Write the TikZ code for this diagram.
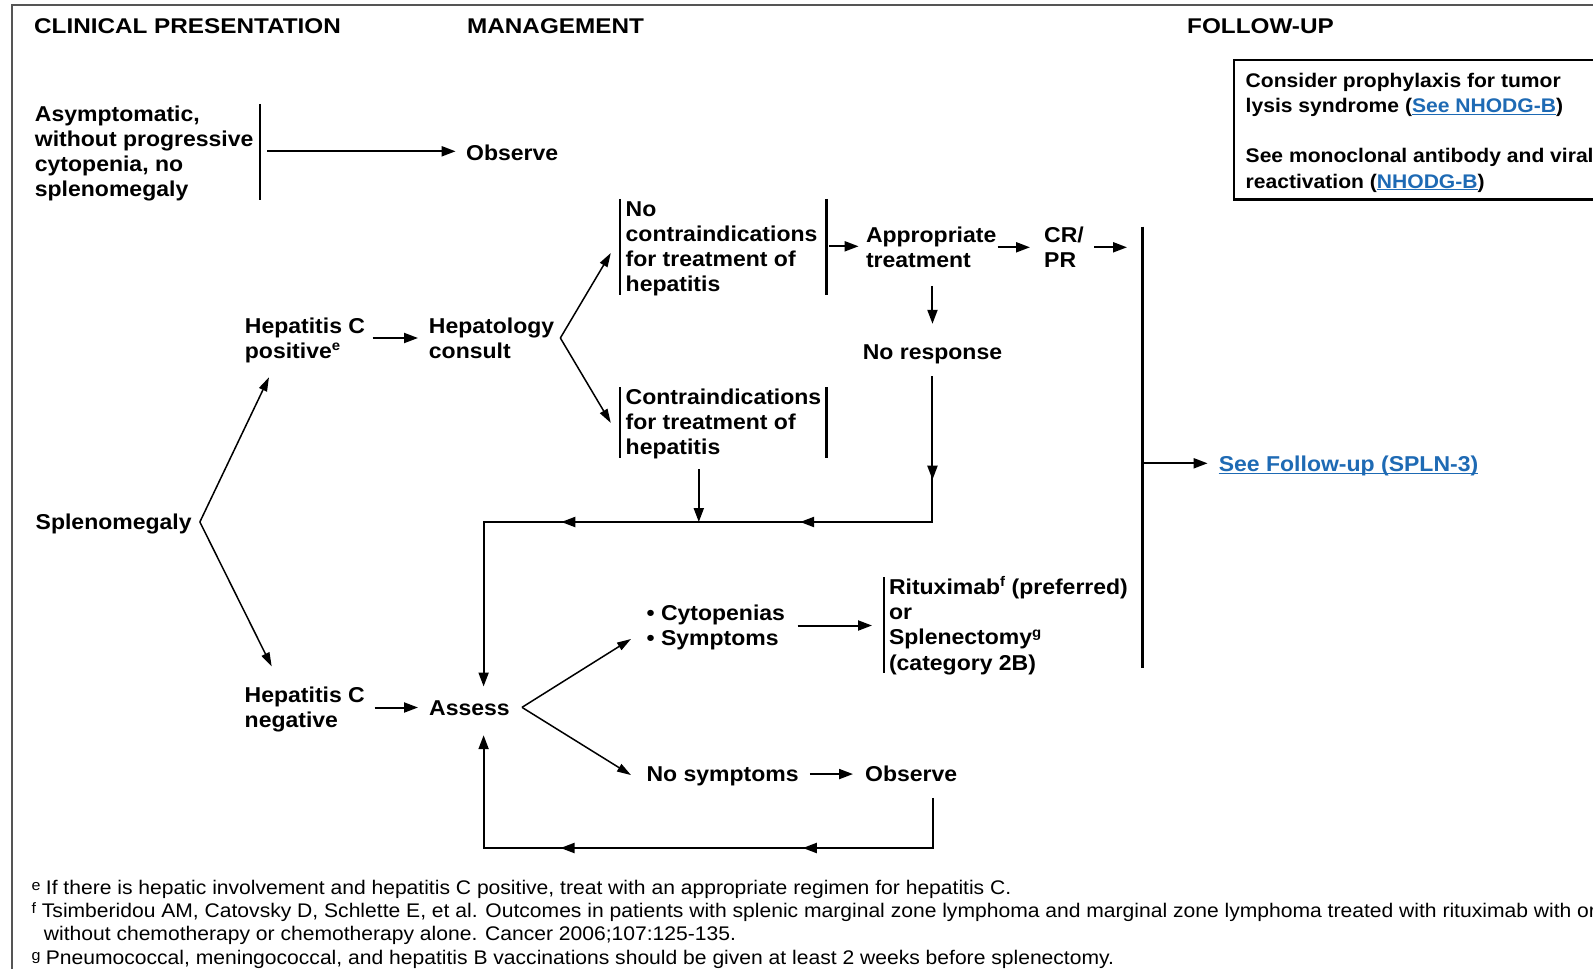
\documentclass[tikz,border=0pt]{standalone}
\usepackage{fontspec}
\usepackage{array}
\setmainfont{Liberation Sans}[FakeStretch=1.07]
\newfontfamily\headfont{Liberation Sans}[FakeStretch=1.14]
\usetikzlibrary{arrows.meta,decorations.markings}
\definecolor{linkblue}{RGB}{30,106,180}
\definecolor{framegray}{RGB}{85,85,85}
% fixed row pitch for multi-line text blocks
\newlength\rowht
\newlength\rowdp
\newcommand\rowstrut{\rule[-\rowdp]{0pt}{\dimexpr\rowht+\rowdp\relax}}
\newcommand\blk[1]{{\renewcommand\arraystretch{0}\begin{tabular}[t]{@{}>{\rowstrut}l@{}}#1\end{tabular}}}
\newcommand\supmark[1]{\raisebox{7.5pt}{\fontsize{14}{14}\selectfont #1}}
\newcommand\fnmark[2]{\makebox[#1][l]{\raisebox{4pt}{\fontsize{15}{15}\selectfont #2}}}
\newcommand\lnk[1]{\textcolor{linkblue}{\underline{#1}}}
\begin{document}
\begin{tikzpicture}[x=1pt,y=-1pt,
  txt/.style={anchor=base west, inner sep=0pt, font=\fontsize{21.5}{25.3}\selectfont\bfseries\setlength\rowht{20.3pt}\setlength\rowdp{5pt}},
  head/.style={anchor=base west, inner sep=0pt, font=\headfont\fontsize{21.3}{25}\selectfont\bfseries},
  boxtxt/.style={anchor=base west, inner sep=0pt, font=\fontsize{19.7}{25.25}\selectfont\bfseries\setlength\rowht{20.25pt}\setlength\rowdp{5pt}},
  note/.style={anchor=base west, inner sep=0pt, font=\fontsize{19.7}{23.3}\selectfont\setlength\rowht{18.3pt}\setlength\rowdp{5pt}},
  conn/.style={line width=2pt},
  arr/.style={conn, -{Triangle[length=14pt,width=10pt]}},
  diag/.style={line width=1.5pt, -{Triangle[length=14pt,width=8.5pt]}},
  barline/.style={line width=2.2pt, shorten <=3.3pt, shorten >=2pt},
  tipmark/.style={postaction={decorate, decoration={markings, mark=at position #1 with {\arrow{Triangle[length=14pt,width=10pt]}}}}},
]
\clip (0,0) rectangle (1593,969);
\fill[white] (0,0) rectangle (1593,969);

% page frame
\draw[framegray, line width=2.4pt] (12,980) -- (12,5) -- (1600,5);

% column headings
\node[head] (hClin) at (34,33.5) {CLINICAL PRESENTATION};
\node[head] (hMgmt) at (467,33.5) {MANAGEMENT};
\node[head] (hFol) at (1187,33.5) {FOLLOW-UP};

% clinical presentation
\node[txt] (asym) at (34.7,121) {\blk{Asymptomatic,\\without progressive\\cytopenia, no\\splenomegaly}};
\node[txt] (spleno) at (35.5,529.6) {\blk{Splenomegaly}};
\node[txt] (hepPos) at (244.7,333) {\blk{Hepatitis C\\positive\supmark{e}}};
\node[txt] (hepNeg) at (244.5,702.5) {\blk{Hepatitis C\\negative}};

% management
\node[txt] (obsTop) at (466,160.6) {\blk{Observe}};
\node[txt] (hepCons) at (428.7,333) {\blk{Hepatology\\consult}};
\node[txt] (noCI) at (625.5,216) {\blk{No\\contraindications\\for treatment of\\hepatitis}};
\node[txt] (contra) at (625.5,404.3) {\blk{Contraindications\\for treatment of\\hepatitis}};
\node[txt] (appr) at (865.8,242.3) {\blk{Appropriate\\treatment}};
\node[txt] (crpr) at (1044,242.3) {\blk{CR/\\PR}};
\node[txt] (noresp) at (862.6,359) {\blk{No response}};
\node[txt] (assess) at (429,715) {\blk{Assess}};
\node[txt] (cyto) at (646.4,620.5) {\blk{• Cytopenias\\• Symptoms}};
\node[txt] (ritux) at (888.8,594.3) {\blk{Rituximab\supmark{f} (preferred)\\or\\Splenectomy\supmark{g}\\(category 2B)}};
\node[txt] (nosym) at (646.4,781.7) {\blk{No symptoms}};
\node[txt] (obsBot) at (865,781.7) {\blk{Observe}};

% follow-up
\draw[line width=2.4pt] (1234,60) rectangle (1620,199.3);
\node[boxtxt] (tls) at (1245.5,87) {\blk{Consider prophylaxis for tumor\\lysis syndrome (\lnk{See NHODG-B})\\ \\See monoclonal antibody and viral\\reactivation (\lnk{NHODG-B})}};
\node[txt, text=linkblue] (fol) at (1218.6,471) {See Follow-up (SPLN-3)};
\draw[linkblue, line width=1.3pt] ([yshift=-2.5pt]fol.base west) -- ([yshift=-2.5pt]fol.base east);

% footnotes
\node[note] (fnE) at (31.5,894) {\fnmark{14.2pt}{e}If there is hepatic involvement and hepatitis C positive, treat with an appropriate regimen for hepatitis C.};
\node[note] (fnF) at (31.5,917) {\blk{\fnmark{10.2pt}{f}Tsimberidou AM, Catovsky D, Schlette E, et al. Outcomes in patients with splenic marginal zone lymphoma and marginal zone lymphoma treated with rituximab with or\\\hspace*{12.2pt}without chemotherapy or chemotherapy alone. Cancer 2006;107:125-135.}};
\node[note] (fnG) at (31.5,964) {\fnmark{14.2pt}{g}Pneumococcal, meningococcal, and hepatitis B vaccinations should be given at least 2 weeks before splenectomy.};

% side bars of the text blocks
\coordinate (asymR) at ([xshift=6pt]asym.east);
\coordinate (nociL) at ([xshift=-5.8pt]noCI.west);
\coordinate (nociR) at ([xshift=200.9pt]noCI.west);
\coordinate (conL) at ([xshift=-5.8pt]contra.west);
\coordinate (conR) at ([xshift=200.9pt]contra.west);
\coordinate (ritL) at ([xshift=-5.1pt]ritux.west);
\draw[barline] (asymR |- asym.north) -- (asymR |- asym.south);
\draw[barline] (nociL |- noCI.north) -- (nociL |- noCI.south);
\draw[barline] (nociR |- noCI.north) -- (nociR |- noCI.south);
\draw[barline] (conL |- contra.north) -- (conL |- contra.south);
\draw[barline] (conR |- contra.north) -- (conR |- contra.south);
\draw[barline] (ritL |- ritux.north) -- (ritL |- ritux.south);

% follow-up collector bar
\coordinate (fTop) at (1142.5,226.7);
\coordinate (fBot) at (1142.5,668.3);
\coordinate (fMid) at (1142.5,463.3);
\draw[line width=2.2pt] (fTop) -- (fBot);

% loop junctions
\coordinate (jn) at (483.6,522);
\coordinate (jb) at (483.6,848);

% connectors
\draw[arr, shorten <=7.4pt, shorten >=10.4pt] (asymR) -- (asymR -| obsTop.west);
\coordinate (splB) at ([xshift=8pt]spleno.east);
\draw[diag] (splB) -- ([xshift=24.3pt,yshift=-13.7pt]hepPos.south west);
\draw[diag] (splB) -- ([xshift=27.2pt,yshift=15.5pt]hepNeg.north west);
\draw[arr, shorten <=7.3pt, shorten >=10.7pt] (hepPos.east) -- (hepPos.east -| hepCons.west);
\coordinate (hcB) at ([xshift=6pt]hepCons.east);
\draw[diag] (hcB) -- ([xshift=-14.7pt,yshift=-6.7pt]noCI.west);
\draw[diag] (hcB) -- ([xshift=-14.7pt,yshift=-1pt]contra.west);
\draw[arr, shorten <=3pt, shorten >=7.2pt] (nociR) -- (nociR -| appr.west);
\draw[arr, shorten <=1pt, shorten >=14pt] (appr.east) -- (appr.east -| crpr.west);
\draw[arr, shorten <=10pt, shorten >=15.5pt] (crpr.east) -- (crpr.east -| fTop);
\draw[arr, shorten >=11pt] (fMid) -- (fMid -| fol.west);
\draw[arr, shorten <=13pt, shorten >=14.7pt] (appr.south -| noresp.north) -- (noresp.north);
\coordinate (nrS) at ([yshift=-12pt]noresp.south);
\draw[arr, shorten >=8pt, tipmark=103.5pt, tipmark=278.2pt, tipmark=517pt] (nrS) -- (nrS |- jn) -- (jn) -- (jn |- assess.north);
\coordinate (cDn) at ([xshift=73.3pt,yshift=-9pt]contra.south west);
\draw[arr] (cDn) -- (cDn |- jn);
\draw[arr, shorten <=9.5pt, shorten >=11pt] (hepNeg.east) -- (hepNeg.east -| assess.west);
\coordinate (asB) at ([xshift=12pt]assess.east);
\draw[diag] (asB) -- ([xshift=-15.4pt,yshift=-13.5pt]cyto.west);
\draw[diag] (asB) -- ([xshift=-15.4pt,yshift=-1pt]nosym.west);
\draw[arr, shorten <=12.4pt, shorten >=16.8pt] (cyto.east) -- (cyto.east -| ritux.west);
\draw[arr, shorten <=10.9pt, shorten >=12pt] (nosym.east) -- (nosym.east -| obsBot.west);
\coordinate (obS) at ([xshift=68pt,yshift=-11pt]obsBot.south west);
\draw[arr, shorten >=15pt, tipmark=180.3pt, tipmark=422.6pt] (obS) -- (obS |- jb) -- (jb) -- (jb |- assess.south);
\end{tikzpicture}
\end{document}
